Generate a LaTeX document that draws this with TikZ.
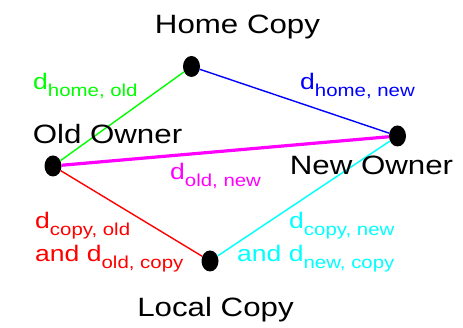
\documentclass[tikz,border=0pt]{standalone}
\usepackage{fontspec}
\newfontfamily\lab[FakeStretch=1.18]{Liberation Sans}
\usetikzlibrary{shapes.geometric}
\definecolor{cgreen}{RGB}{0,255,0}
\definecolor{cblue}{RGB}{0,0,255}
\definecolor{cmag}{RGB}{255,0,255}
\definecolor{cred}{RGB}{255,0,0}
\definecolor{ccyan}{RGB}{0,255,255}
\newcommand{\bigtxt}{\lab\fontsize{26.5}{30}\selectfont}
\newcommand{\mtxt}{\lab\fontsize{22.5}{26}\selectfont}
\newcommand{\dsub}[1]{d\raisebox{-7pt}{\lab\fontsize{17.3}{20}\selectfont #1}}
\begin{document}
\begin{tikzpicture}[x=1pt,y=-1pt,
  dot/.style={ellipse,fill=black,inner sep=0pt,minimum width=17pt,minimum height=21pt},
  title/.style={anchor=base,inner sep=0pt,font=\bigtxt},
  elabel/.style={anchor=base west,inner sep=0pt,font=\mtxt},
  thin/.style={line width=1.4pt},
  thick/.style={line width=3.2pt}]
\useasboundingbox (0,0) rectangle (463,328);
\node[dot] (home) at (191.5,66.5) {};
\node[dot] (old) at (53,166) {};
\node[dot] (new) at (397.5,136) {};
\node[dot] (local) at (210,261) {};
\draw[thin, cgreen] (old) -- (home);
\draw[thin, cblue] (home) -- (new);
\draw[thick, cmag] (old) -- (new);
\draw[thin, cred] (old) -- (local);
\draw[thin, ccyan] (local) -- (new);
\node[title] (thome) at (237.5,34) {Home Copy};
\node[title] (told) at (107.5,144) {Old Owner};
\node[title] (tnew) at (371.5,175) {New Owner};
\node[title] (tlocal) at (215.5,317) {Local Copy};
\node[elabel, cgreen] (lho) at (33,90) {\dsub{home, old}};
\node[elabel, cblue] (lhn) at (300,90) {\dsub{home, new}};
\node[elabel, cmag] (lon) at (170,180) {\dsub{old, new}};
\node[elabel, cred] (lco1) at (35,229) {\dsub{copy, old}};
\node[elabel, cred] (lco2) at (35,262) {and \dsub{old, copy}};
\node[elabel, ccyan] (lcn1) at (289,229) {\dsub{copy, new}};
\node[elabel, ccyan] (lcn2) at (237,262) {and \dsub{new, copy}};
\end{tikzpicture}
\end{document}
